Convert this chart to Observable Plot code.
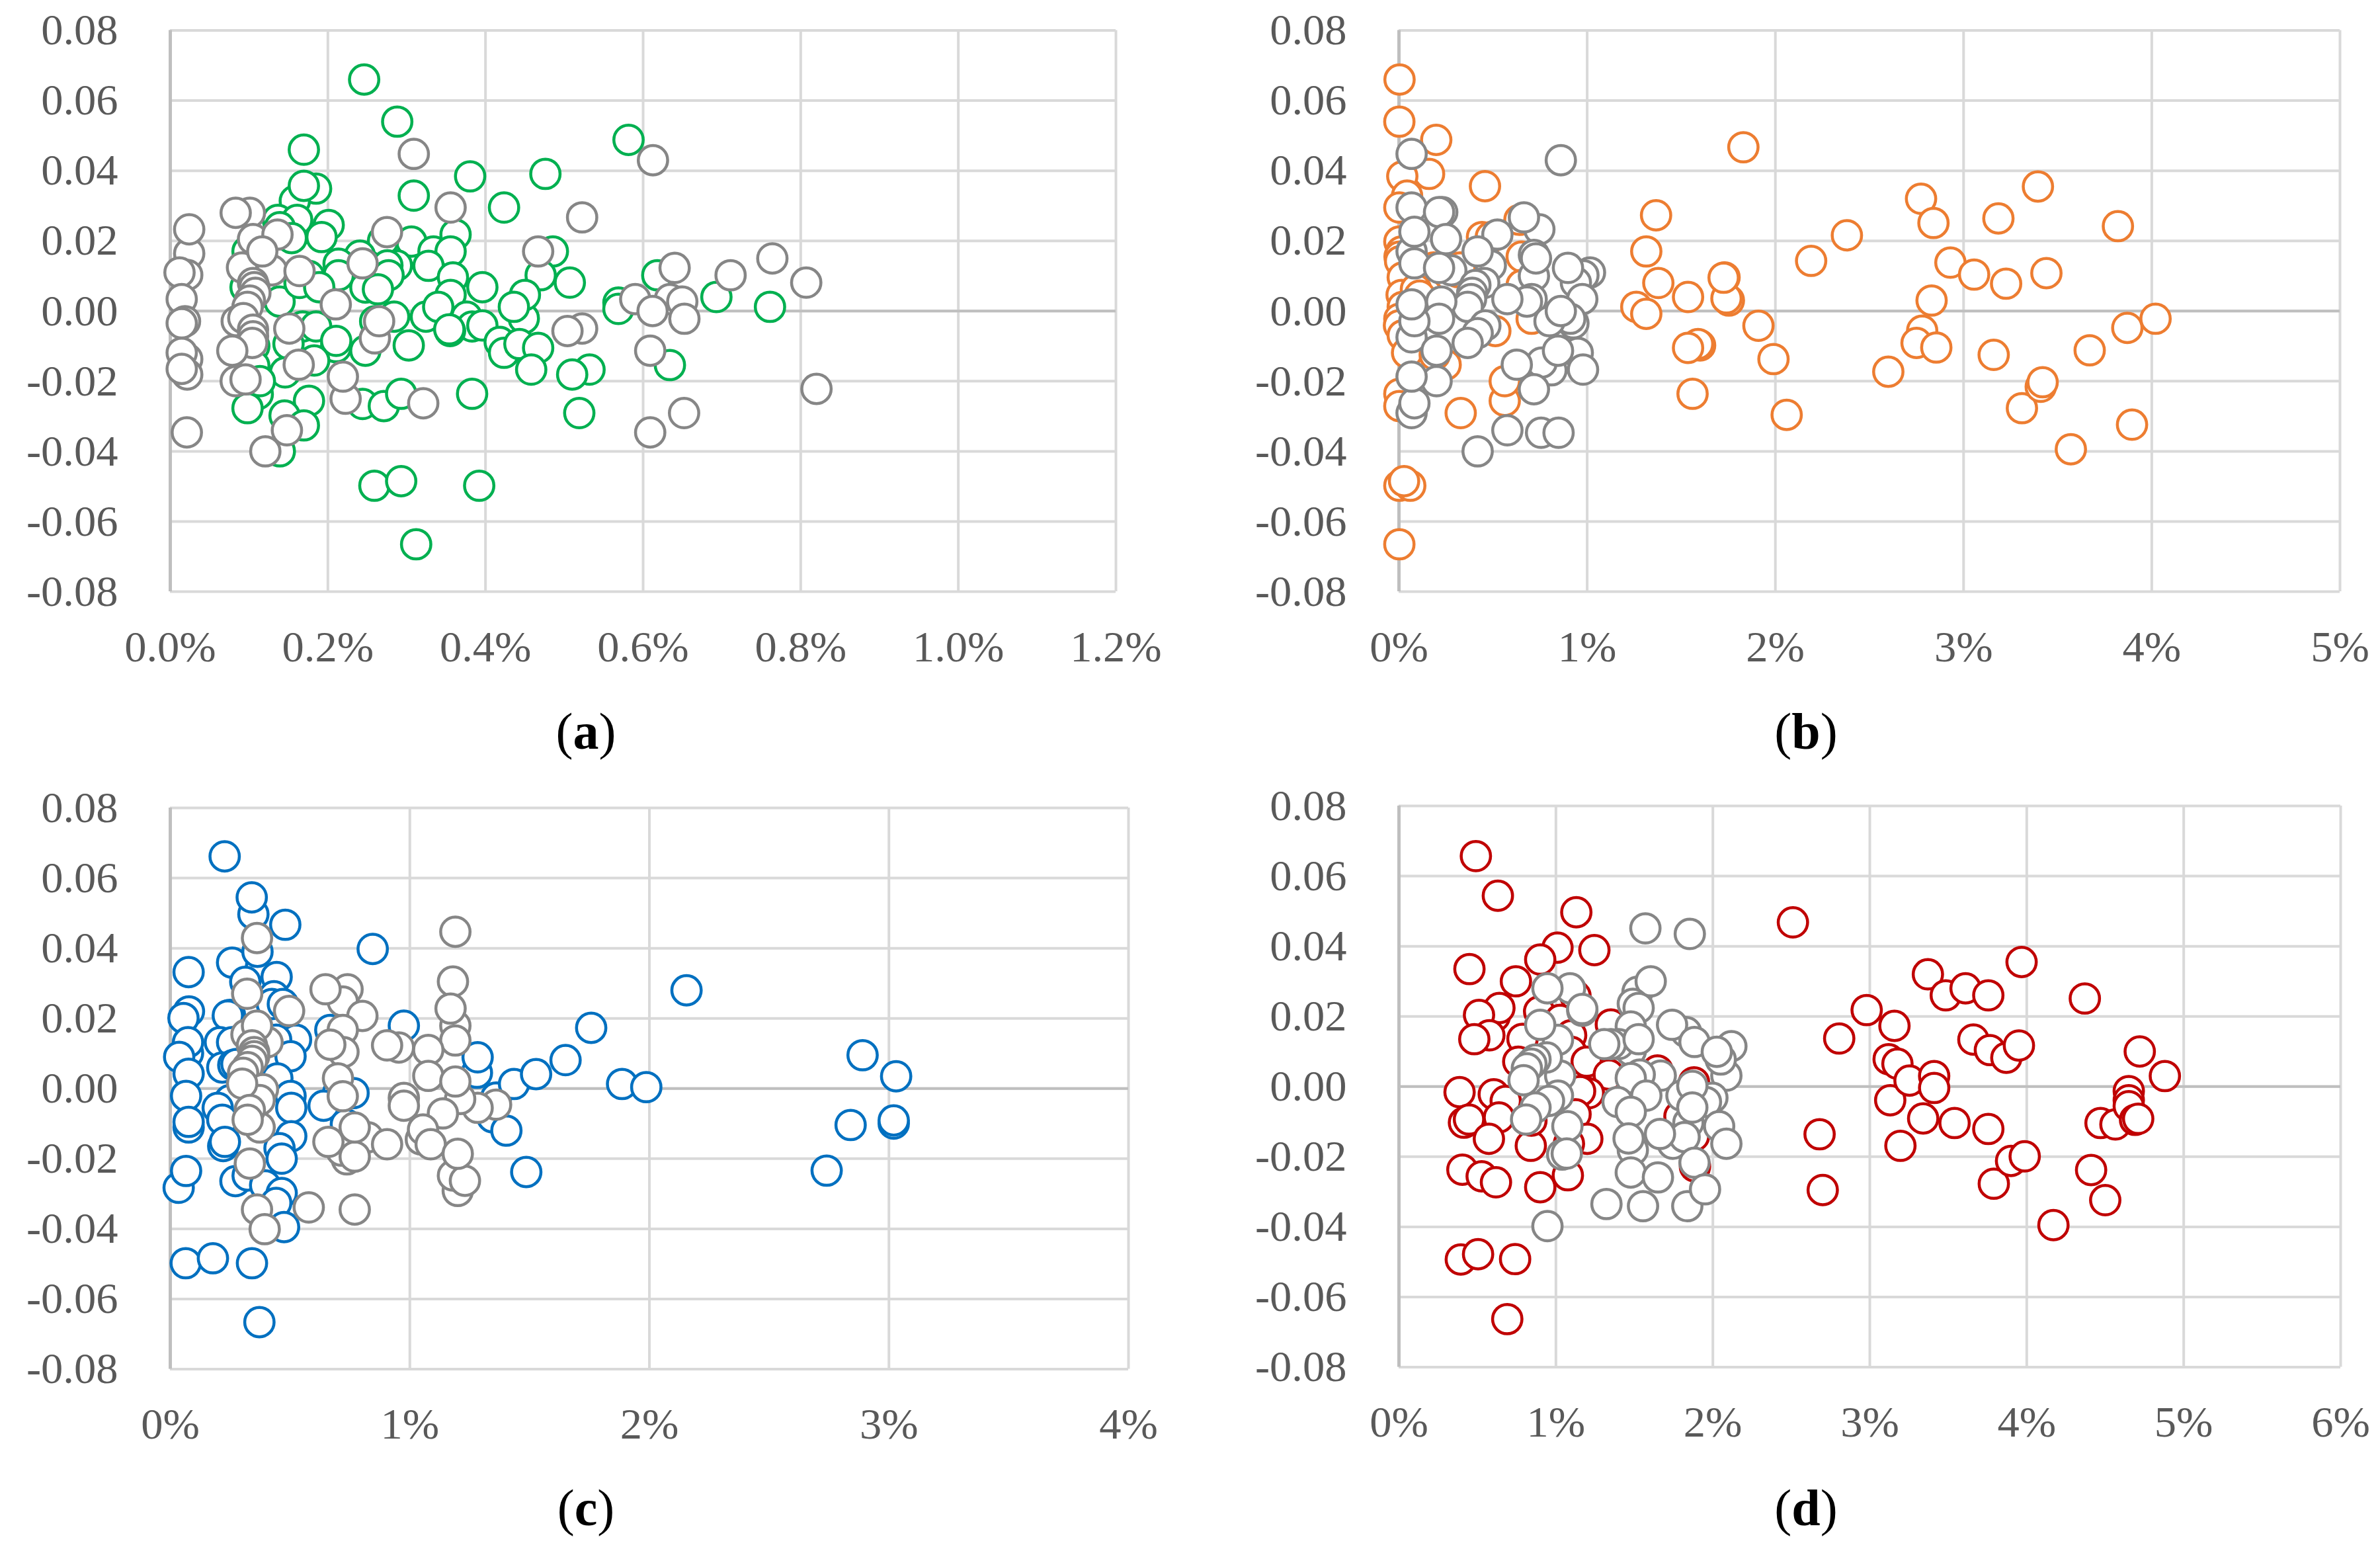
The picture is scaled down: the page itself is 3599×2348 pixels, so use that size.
<!DOCTYPE html>
<html><head><meta charset="utf-8">
<script src="https://cdn.jsdelivr.net/npm/d3@7"></script>
<script src="https://cdn.jsdelivr.net/npm/@observablehq/plot@0.6"></script>
<style>
html,body{margin:0;padding:0;background:#fff}
#page{position:relative;width:3599px;height:2348px;overflow:hidden;background:#fff}
.cap{position:absolute;width:300px;text-align:center;font:400 78px "Liberation Serif",serif;color:#000;line-height:1}
</style></head><body><div id="page"></div>
<script>
const yTicks=[-0.08,-0.06,-0.04,-0.02,0,0.02,0.04,0.06,0.08];
const xTicksA=[0,0.2,0.4,0.6,0.8,1.0,1.2];
const xTicksB=[0,1,2,3,4,5];
const xTicksC=[0,1,2,3,4];
const xTicksD=[0,1,2,3,4,5,6];
const captions=["a","b","c","d"];

const greenPoints=[[.246,.066],[.288,.054],[.1695,.046],[.185,.0349],[.158,.0314],[.1695,.0357],[.1365,.026],[.161,.026],[.201,.0245],[.139,.0239],[.192,.0211],[.154,.0208],[.098,.017],[.306,.0198],[.27,.02],[.362,.0218],[.334,.017],[.3557,.017],[.2875,.013],[.2755,.013],[.3277,.0129],[.2406,.0158],[.2136,.0135],[.2136,.0102],[.277,.0102],[.2476,.0067],[.2635,.0062],[.3587,.0096],[.3557,.0046],[.396,.0068],[.1387,.0027],[.176,.01],[.164,.008],[.189,.0068],[.0955,.0068],[.4235,.0295],[.3805,.0384],[.309,.0329],[.284,-.0016],[.26,-.0029],[.3244,-.0016],[.34,.0012],[.376,-.0016],[.4486,-.0021],[.383,-.0044],[.355,-.0057],[.354,-.0052],[.396,-.0041],[.168,-.0044],[.185,-.0044],[.2105,-.0103],[.2105,-.0085],[.2476,-.0113],[.3026,-.0098],[.418,-.0088],[.4235,-.0119],[.15,-.0094],[.1457,-.0175],[.1826,-.0141],[.1066,-.01],[.1066,-.0156],[.111,-.0237],[.1137,-.02],[.098,-.0277],[.176,-.0256],[.145,-.0298],[.1695,-.0326],[.139,-.04],[.244,-.0265],[.271,-.0271],[.293,-.0236],[.383,-.0236],[.5815,.0488],[.476,.0391],[.4855,.017],[.47,.0102],[.507,.0081],[.45,.0046],[.436,.0012],[.5687,.0024],[.5687,.0006],[.618,.0102],[.693,.004],[.761,.0012],[.443,-.0094],[.4668,-.0105],[.458,-.0167],[.532,-.0167],[.51,-.0181],[.519,-.0291],[.634,-.0154],[.259,-.0498],[.293,-.0485],[.392,-.0498],[.312,-.0665]];
const grayPointsA=[[.024,.0164],[.024,.0233],[.0215,.0103],[.0117,.011],[.0145,.0034],[.0187,-.0029],[.0145,-.0035],[.0215,-.0137],[.0215,-.0181],[.0145,-.0119],[.0145,-.0165],[.021,-.0346],[.101,.028],[.083,.028],[.105,.0205],[.136,.0218],[.118,.013],[.129,.0116],[.091,.0124],[.1167,.017],[.164,.0114],[.105,.008],[.1066,.0068],[.108,.0052],[.101,.003],[.098,.0012],[.0843,-.0029],[.0927,-.002],[.105,-.0053],[.105,-.0072],[.151,-.005],[.104,-.0091],[.0787,-.0113],[.163,-.0153],[.083,-.02],[.0955,-.0195],[.21,.0019],[.244,.0136],[.275,.0225],[.309,.0448],[.3557,.0295],[.2596,-.0078],[.265,-.0029],[.2225,-.025],[.219,-.0187],[.321,-.0263],[.1206,-.04],[.148,-.034],[.6125,.043],[.5226,.0267],[.4668,.017],[.64,.0123],[.711,.0102],[.764,.015],[.807,.0081],[.59,.0034],[.634,.0034],[.6497,.0027],[.612,0],[.6524,-.0022],[.5226,-.005],[.504,-.0057],[.609,-.0113],[.82,-.0222],[.652,-.0291],[.609,-.0346]];

const orangePoints=[[.003,.066],[.002,.054],[.198,.0488],[.16,.0391],[.0176,.0384],[.043,.0329],[.002,.0295],[.457,.0356],[1.366,.0273],[1.314,.017],[1.378,.008],[1.73,.0096],[1.261,.0012],[1.314,-.0008],[1.536,.004],[1.753,.003],[1.6,-.0098],[1.589,-.0094],[1.536,-.0105],[1.56,-.0236],[.441,.0211],[.488,.0211],[.64,.026],[.002,.0198],[.014,.017],[.003,.0155],[.006,.0142],[.02,.0096],[.014,.0046],[.02,.0012],[.002,-.0022],[0,-.0041],[.02,-.0069],[.043,-.0119],[.002,-.0236],[.002,-.0271],[.184,.0124],[.149,.0049],[.652,.0155],[.652,.0074],[.705,-.0022],[.512,-.0057],[.248,-.0153],[.562,-.0256],[.562,-.02],[.328,-.0291],[.19,-.0125],[.09,.0062],[.11,.0044],[.313,.0111],[.325,.0124],[.002,-.0498],[.06,-.0498],[.027,-.0485],[.002,-.0665],[2.06,-.0296],[1.99,-.0137],[1.91,-.0042],[1.83,.0467],[2.19,.0143],[2.38,.0216],[1.74,.0036],[1.725,.0095],[2.774,.032],[2.84,.0251],[2.93,.0138],[3.056,.0104],[3.226,.0078],[3.185,.0264],[3.395,.0355],[3.82,.0242],[3.44,.0108],[2.83,.003],[2.78,-.0056],[2.75,-.0091],[2.855,-.0104],[2.6,-.0173],[3.16,-.0125],[3.31,-.0277],[3.41,-.0216],[3.42,-.0203],[3.57,-.0394],[3.67,-.0112],[3.87,-.0048],[4.02,-.0022],[3.895,-.0324]];
const grayPointsB=[[.86,.043],[.067,.0448],[.067,.0295],[.23,.0282],[.213,.0282],[.746,.0233],[.664,.0267],[.523,.0218],[.25,.0205],[.067,.017],[.082,.0226],[.082,.0136],[.488,.013],[.418,.017],[1.015,.011],[.98,.0102],[.94,.0081],[.898,.0123],[.974,.0034],[.717,.01],[.717,.016],[.728,.015],[.278,.0116],[.213,.0123],[.453,.008],[.406,.0074],[.389,.0052],[.383,.0034],[.365,.0012],[.705,.0034],[.68,.0027],[.576,.0034],[.927,-.0035],[.91,-.0022],[.8,-.0029],[.86,0],[.225,.0027],[.213,-.0022],[.067,-.0075],[.082,-.0029],[.067,.0019],[.459,-.0041],[.418,-.0063],[.365,-.0091],[.2,-.0113],[.95,-.0119],[.81,-.0169],[.758,-.0147],[.845,-.0113],[.978,-.0167],[.626,-.0153],[.717,-.0223],[.2,-.02],[.067,-.0291],[.082,-.0263],[.067,-.0187],[.576,-.034],[.755,-.0347],[.848,-.0347],[.418,-.04]];

const bluePoints=[[.227,.0662],[.347,.0497],[.34,.0545],[.48,.0467],[.845,.0398],[.0765,.0332],[.258,.0359],[.364,.039],[.313,.0304],[.444,.0318],[.433,.0263],[.424,.0241],[.47,.0241],[.078,.022],[.055,.0201],[.249,.021],[.24,.0208],[.668,.0167],[.975,.0179],[.525,.0139],[.442,.0139],[.207,.0132],[.258,.0132],[.074,.0101],[.074,.0132],[.037,.009],[.0765,.0042],[.502,.0092],[.217,.006],[.263,.0067],[.276,.007],[.447,.0029],[.066,-.0021],[.249,-.0033],[.198,-.0055],[.502,-.0021],[.505,-.0055],[.7,-.0014],[.765,-.0013],[.64,-.0049],[.217,-.0089],[.0765,-.0111],[.0765,-.0095],[.505,-.0136],[.733,-.0102],[.456,-.017],[.465,-.02],[.221,-.0164],[.228,-.0152],[.035,-.0283],[.066,-.0235],[.272,-.0264],[.323,-.0248],[.396,-.0276],[.465,-.0298],[.442,-.0326],[.475,-.0395],[.0645,-.0498],[.178,-.0484],[.341,-.0498],[.372,-.0666],[1.28,.0045],[1.283,.0089],[1.345,-.0082],[1.36,-.0026],[1.435,.0013],[1.527,.0041],[1.65,.0081],[1.757,.0173],[1.403,-.012],[1.486,-.0238],[2.155,.028],[1.886,.0013],[1.987,.0004],[2.89,.0095],[3.03,.0035],[3.02,-.01],[3.02,-.0091],[2.84,-.0104],[2.74,-.0234]];
const grayPointsC=[[1.19,.0447],[1.18,.0305],[1.19,.0179],[1.17,.0228],[1.19,.0137],[1.077,.011],[1.077,.0036],[1.36,-.0046],[1.283,-.0055],[1.21,-.003],[1.19,.002],[1.138,-.0071],[.975,-.0027],[.975,-.0049],[1.046,-.0145],[1.055,-.0117],[1.087,-.0159],[1.2,-.0292],[1.18,-.0248],[1.23,-.0263],[1.2,-.0186],[.954,.0117],[.905,.0123],[.74,.0283],[.72,.0248],[.648,.0283],[.802,.0207],[.72,.0167],[.723,.0104],[.668,.0125],[.7,.0029],[.72,-.0022],[.825,-.0139],[.905,-.0159],[.737,-.0202],[.714,-.0177],[.77,-.0194],[.77,-.0111],[.66,-.0152],[.77,-.0345],[.578,-.0339],[.362,.0429],[.321,.027],[.496,.0221],[.318,.0154],[.406,.0132],[.362,.0179],[.341,.0123],[.35,.0104],[.35,.0092],[.341,.0079],[.323,.0061],[.304,.0045],[.387,-.0002],[.373,-.0033],[.3,.0014],[.373,-.0111],[.332,-.0061],[.323,-.0089],[.332,-.0214],[.362,-.0345],[.394,-.0401]];

const redPoints=[[.49,.0657],[.63,.0544],[1.13,.0497],[2.51,.0468],[.449,.0335],[.745,.03],[1.01,.0396],[.9,.0362],[1.245,.0389],[.61,.02],[.64,.0224],[.51,.0204],[.893,.0214],[1.125,.0258],[1.027,.019],[.576,.0146],[.48,.0135],[.787,.0136],[1.097,.0146],[1.35,.0177],[1.097,.0099],[.76,.0071],[1.196,.0071],[1.337,.0034],[1.647,.0046],[1.88,.0012],[1.21,-.0019],[1.154,-.0013],[.386,-.0016],[.604,-.0022],[.68,-.0041],[.414,-.0103],[.446,-.0094],[.637,-.0088],[.573,-.0149],[.84,-.0169],[1.125,-.0079],[.844,-.0097],[1.2,-.0149],[1.083,-.0163],[1.076,-.0253],[.9,-.0287],[.404,-.0237],[.527,-.0256],[.618,-.0273],[1.787,-.0085],[1.886,-.0228],[1.88,-.0141],[.394,-.0493],[.504,-.0478],[.74,-.0492],[.69,-.0663],[2.68,-.0136],[2.7,-.0295],[2.805,.0137],[2.98,.0218],[3.157,.0173],[3.12,.0078],[3.176,.0065],[3.13,-.0039],[3.195,-.0169],[3.253,.0017],[3.34,-.0091],[3.37,.032],[3.484,.026],[3.61,.028],[3.66,.0134],[3.755,.026],[3.765,.0104],[3.41,.003],[3.41,-.0004],[3.54,-.0104],[3.755,-.0121],[3.79,-.0277],[3.87,.0082],[3.95,.0117],[3.967,.0355],[3.9,-.0212],[3.987,-.0199],[4.17,-.0395],[4.37,.0251],[4.41,-.0238],[4.47,-.0104],[4.5,-.0324],[4.565,-.0108],[4.65,-.0013],[4.65,-.0039],[4.65,-.0056],[4.69,-.0095],[4.71,-.0092],[4.72,.01],[4.88,.003]];
const grayPointsD=[[1.57,.0451],[1.853,.0435],[1.52,.027],[1.604,.03],[1.49,.0236],[1.527,.0224],[1.477,.0171],[1.83,.0155],[1.74,.0176],[1.883,.0127],[1.477,.0102],[1.4,.0121],[1.35,.0121],[1.527,.0135],[1.308,.0121],[2.118,.0115],[2.086,.0031],[2.05,.0077],[2.025,.0099],[1.668,.0031],[1.534,.0034],[1.477,.0024],[1.576,-.0026],[1.997,-.0032],[1.956,-.0044],[1.8,-.0026],[1.869,.0002],[1.393,-.0044],[1.477,-.0072],[2.04,-.0113],[1.844,-.0103],[1.869,-.006],[1.745,-.0163],[1.82,-.0144],[1.663,-.0135],[1.49,-.0181],[1.463,-.0148],[2.086,-.0163],[1.477,-.0245],[1.65,-.0259],[1.883,-.0217],[1.837,-.0341],[1.95,-.0293],[1.555,-.0341],[1.322,-.0335],[.946,-.0398],[1.09,.028],[.946,.028],[1.168,.0216],[1.168,.0221],[1.013,.0133],[.9,.0176],[1.027,.0031],[.942,.0083],[.87,.0077],[.844,.0065],[.815,.0052],[.794,.0018],[1.013,-.0026],[.956,-.0041],[.87,-.006],[.81,-.0094],[1.073,-.0113],[1.04,-.0194],[1.069,-.0191]];

const gridColor="#D9D9D9",axisColor="#BFBFBF",textColor="#595959",grayStroke="#868686";
const W=1799,H=1100;
const page=document.getElementById("page");

function panel(o){
  const fig=Plot.plot({
    width:W,height:H,
    marginLeft:o.ml,marginRight:o.mr,marginTop:o.mt,marginBottom:H-o.mt-848.5,
    style:{background:"transparent",fontFamily:'"Liberation Serif",serif',fontSize:"66.5px",color:textColor,overflow:"visible"},
    x:{domain:o.domain,ticks:o.ticks},
    y:{domain:[-0.08,0.08]},
    marks:[
      Plot.ruleY(yTicks,{stroke:gridColor,strokeWidth:4}),
      Plot.ruleX(o.ticks,{stroke:gridColor,strokeWidth:4}),
      Plot.ruleX([0],{stroke:axisColor,strokeWidth:5}),
      Plot.ruleY([0],{stroke:axisColor,strokeWidth:4}),
      Plot.axisY({ticks:yTicks,tickSize:0,tickPadding:79,tickFormat:d=>d.toFixed(2),fill:textColor,label:null}),
      Plot.axisX({ticks:o.ticks,tickSize:0,tickPadding:58,tickFormat:o.fmt,fill:textColor,label:null}),
      Plot.dot(o.color,{x:d=>d[0],y:d=>d[1],r:22.2,stroke:o.stroke,strokeWidth:4.5,fill:"white"}),
      Plot.dot(o.gray,{x:d=>d[0],y:d=>d[1],r:22.2,stroke:grayStroke,strokeWidth:4.5,fill:"white"})
    ]
  });
  fig.style.position="absolute";
  fig.style.left=o.left+"px";
  fig.style.top=o.top+"px";
  page.appendChild(fig);
  const c=document.createElement("div");
  c.className="cap";
  c.style.left=(o.capX-150)+"px";
  c.style.top=o.capY+"px";
  c.innerHTML="(<b>"+o.cap+"</b>)";
  page.appendChild(c);
}
const p0=d=>d+"%", p1=d=>d.toFixed(1)+"%";
panel({left:0,top:0,ml:257,mr:112,mt:45.5,domain:[0,1.2],ticks:xTicksA,fmt:p1,color:greenPoints,gray:grayPointsA,stroke:"#00B050",cap:captions[0],capX:886,capY:1067});
panel({left:1800,top:0,ml:315,mr:61,mt:45.5,domain:[0,5],ticks:xTicksB,fmt:p0,color:orangePoints,gray:grayPointsB,stroke:"#ED7D31",cap:captions[1],capX:2731,capY:1067});
panel({left:0,top:1175,ml:257,mr:93,mt:46,domain:[0,4],ticks:xTicksC,fmt:p0,color:bluePoints,gray:grayPointsC,stroke:"#0070C0",cap:captions[2],capX:886,capY:2241});
panel({left:1800,top:1172,ml:315,mr:60,mt:46,domain:[0,6],ticks:xTicksD,fmt:p0,color:redPoints,gray:grayPointsD,stroke:"#C00000",cap:captions[3],capX:2731,capY:2241});
</script></body></html>
